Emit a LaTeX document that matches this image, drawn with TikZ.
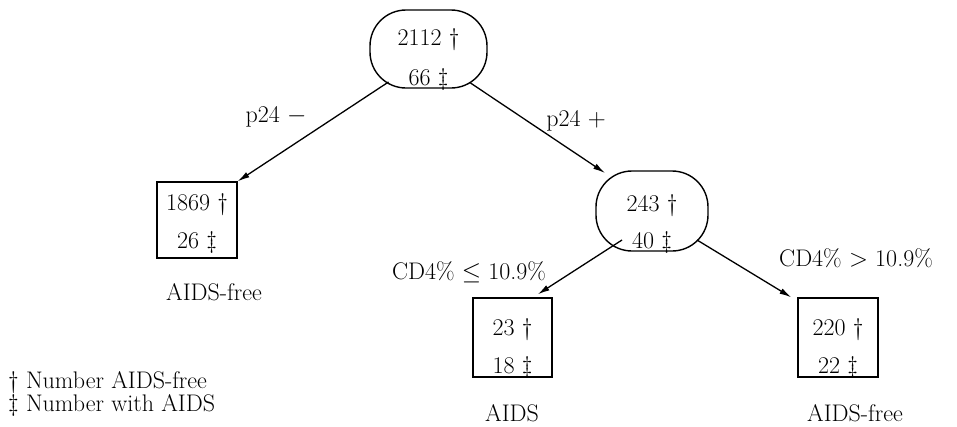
\documentclass[tikz,border=0pt]{standalone}
\usetikzlibrary{arrows.meta,calc}
\begin{document}
\begin{tikzpicture}[x=1pt,y=-1pt,
  font=\fontsize{24}{28}\selectfont,
  oval/.style={draw, line width=1.4pt, rounded corners=36pt, minimum width=117pt, minimum height=78pt, inner sep=0pt},
  boxnode/.style={draw, line width=1.3pt, minimum width=80pt, minimum height=78pt, inner sep=0pt},
  num/.style={inner sep=0pt, anchor=base},
  lbl/.style={inner sep=0pt},
  arr/.style={line width=1.3pt, -{Latex[length=12pt,width=6pt]}}]
\useasboundingbox (0,0) rectangle (957,426);
% nodes
\node[oval] (root) at (428.5,49) {};
\node[num] (rootA) at (428.5,45) {2112 \dag};
\node[num] (rootB) at (428.5,85) {66 \ddag};

\node[oval, minimum width=112pt, minimum height=80pt] (n243) at (652,211) {};
\node[num] (n243A) at (652,211) {243 \dag};
\node[num] (n243B) at (652,248) {40 \ddag};

\node[boxnode, minimum height=76pt] (n1869) at (197,220) {};
\node[num] (n1869A) at (197,210) {1869 \dag};
\node[num] (n1869B) at (197,248) {26 \ddag};

\node[boxnode, minimum width=79pt, minimum height=79pt] (n23) at (512.5,337.5) {};
\node[num] (n23A) at (512.5,335) {23 \dag};
\node[num] (n23B) at (512.5,373) {18 \ddag};

\node[boxnode, minimum height=79pt] (n220) at (838,337.5) {};
\node[num] (n220A) at (838,335) {220 \dag};
\node[num] (n220B) at (838,373) {22 \ddag};

% labels
\node[lbl] (lm) at (276,117) {p24 $-$};
\node[lbl] (lp) at (576,121) {p24 $+$};
\node[lbl] (lle) at (469,272) {CD4\% $\leq$ 10.9\%};
\node[lbl] (lgt) at (856,258) {CD4\% $>$ 10.9\%};
\node[lbl] (o1) at (214,292) {AIDS-free};
\node[lbl, anchor=base] (o2) at (512,421) {AIDS};
\node[lbl, anchor=base] (o3) at (855,421) {AIDS-free};
\node[lbl, anchor=base west] (leg1) at (8,388) {\dag{} Number AIDS-free};
\node[lbl, anchor=base west] (leg2) at (8,411) {\ddag{} Number with AIDS};

% edges
\draw[arr] ($(root.center)+(-40,33)$) -- (n1869.north east);
\draw[arr] ($(root.center)+(42,34)$) -- ($(n243.center)+(-47,-38)$);
\draw[arr] ($(n243.center)+(-30,29)$) -- ($(n23.north east)+(-15,-3)$);
\draw[arr] ($(n243.center)+(45,29)$) -- ($(n220.north west)+(-6,0)$);
\end{tikzpicture}
\end{document}
